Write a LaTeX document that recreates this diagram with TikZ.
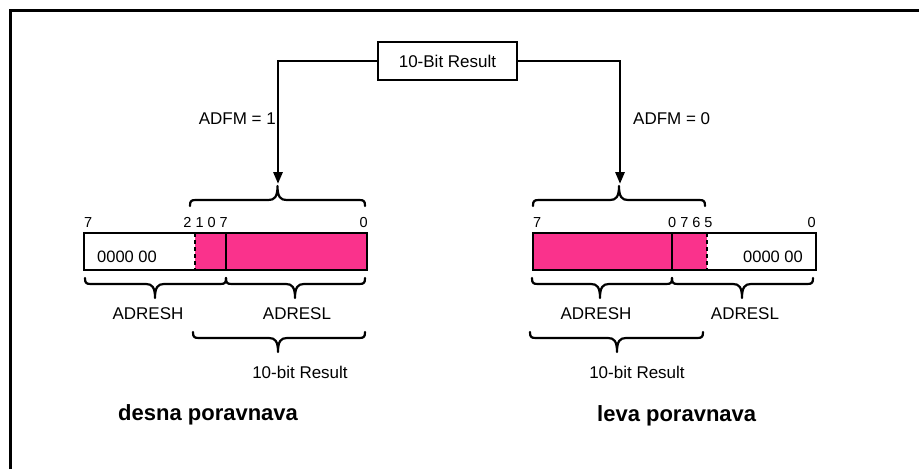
\documentclass[tikz,border=0pt]{standalone}
\usepackage{fontspec}
\setmainfont{Liberation Sans}
\usetikzlibrary{arrows.meta}
\definecolor{regpink}{RGB}{250,50,140}
\newcommand{\hbrace}[5]{%
 \draw[brc] ({#1},{#4+(#5)*6}) .. controls ({#1},{#4+(#5)*1}) and ({#1+1},{#4}) .. ({#1+6},{#4})
   -- ({#3-9},{#4}) .. controls ({#3-3},{#4}) and ({#3},{#4-(#5)*3}) .. ({#3},{#4-(#5)*14})
   .. controls ({#3},{#4-(#5)*3}) and ({#3+3},{#4}) .. ({#3+9},{#4})
   -- ({#2-6},{#4}) .. controls ({#2-1},{#4}) and ({#2},{#4+(#5)*1}) .. ({#2},{#4+(#5)*6});}
\begin{document}
\begin{tikzpicture}[x=1pt,y=-1pt,
  lbl/.style={inner sep=0pt,font=\fontsize{17}{20}\selectfont},
  bits/.style={inner sep=0pt,font=\fontsize{14.5}{17}\selectfont},
  zeros/.style={inner sep=0pt,font=\fontsize{16.5}{19}\selectfont},
  big/.style={inner sep=0pt,font=\fontsize{22}{26}\selectfont\bfseries},
  conn/.style={line width=2.8pt,-{Triangle[length=12pt,width=9pt]}},
  brc/.style={line width=2.2pt,line cap=round,line join=round},
  reg/.style={line width=2.5pt}]
\useasboundingbox (0,0) rectangle (919,469);
\draw[line width=3pt] (10,469) -- (10,10) -- (919,10);
% top box
\node[draw,line width=2.5pt,minimum width=139pt,minimum height=38pt,inner sep=0pt,
  font=\fontsize{17}{20}\selectfont] (res) at (447.5,61) {10-Bit Result};
\coordinate (tipL) at (278,184);
\coordinate (tipR) at (620,184);
\draw[conn] (res.west) -| (tipL);
\draw[conn] (res.east) -| (tipR);
\node[lbl,anchor=base east] (adfm1) at (276,124) {ADFM = 1};
\node[lbl,anchor=base west] (adfm0) at (633,124) {ADFM = 0};
% ---------- left register
\hbrace{190}{365}{277.5}{200}{1}
\node[bits,anchor=base west] (bl7) at (84,227) {7};
\node[bits,anchor=base east] (bl2107) at (228,227) {2 1 0 7};
\node[bits,anchor=base east] (bl0) at (368,227) {0};
\fill[regpink] (195,233) rectangle (367,270);
\draw[line width=2pt,dash pattern=on 4pt off 3pt] (195,233) -- (195,270);
\draw[line width=2pt] (226,233) -- (226,270);
\draw[reg] (84,233) rectangle (367,270);
\node[zeros,anchor=base west] (zl) at (97,262) {0000 00};
\hbrace{85}{226}{155}{284}{-1}
\hbrace{226}{365}{295}{284}{-1}
\node[lbl,anchor=base] (adreshL) at (148,319) {ADRESH};
\node[lbl,anchor=base] (adreslL) at (297,319) {ADRESL};
\hbrace{193}{365}{278}{338}{-1}
\node[lbl,anchor=base] (resL) at (300,378) {10-bit Result};
\node[big,anchor=base west] (desna) at (118,420) {desna poravnava};
% ---------- right register
\hbrace{533}{705}{619}{200}{1}
\node[bits,anchor=base west] (br7) at (533,227) {7};
\node[bits,anchor=base west] (br0765) at (668,227) {0 7 6 5};
\node[bits,anchor=base east] (br0) at (816,227) {0};
\fill[regpink] (533,233) rectangle (707,270);
\draw[line width=2pt,dash pattern=on 4pt off 3pt] (707,233) -- (707,270);
\draw[line width=2pt] (672,233) -- (672,270);
\draw[reg] (533,233) rectangle (816,270);
\node[zeros,anchor=base east] (zr) at (803,262) {0000 00};
\hbrace{532}{672}{600}{284}{-1}
\hbrace{672}{813}{742}{284}{-1}
\node[lbl,anchor=base] (adreshR) at (596,319) {ADRESH};
\node[lbl,anchor=base] (adreslR) at (745,319) {ADRESL};
\hbrace{530}{703}{617}{338}{-1}
\node[lbl,anchor=base] (resR) at (637,378) {10-bit Result};
\node[big,anchor=base west] (leva) at (597,421) {leva poravnava};
\end{tikzpicture}
\end{document}
